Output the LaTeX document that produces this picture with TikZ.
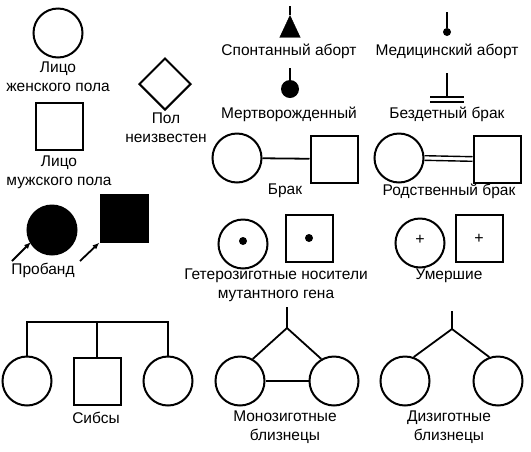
\documentclass[tikz,border=0pt]{standalone}
\usepackage{fontspec}
\setmainfont{Liberation Sans}
\usetikzlibrary{shapes.geometric,arrows.meta}
\begin{document}
\begin{tikzpicture}[x=1pt,y=-1pt,
  fem/.style={circle,draw,line width=2pt,minimum size=49pt,inner sep=0pt},
  mal/.style={rectangle,draw,line width=2pt,minimum size=47pt,inner sep=0pt},
  lbl/.style={font=\fontsize{15.5}{19}\selectfont,align=center,inner sep=0pt},
  ln/.style={line width=1.8pt}]
\useasboundingbox (0,0) rectangle (531,451);
% female / male / unknown
\node[fem] (f1) at (58,33) {};
\node[lbl] (lf1) at (58,77) {Лицо\\женского пола};
\node[mal] (m1) at (59,126) {};
\node[lbl] (lm1) at (59,172) {Лицо\\мужского пола};
\node[diamond,draw,line width=2pt,minimum size=52pt,inner sep=0pt] (u1) at (165,84) {};
\node[lbl] (lu1) at (166,128) {Пол\\неизвестен};
% proband
\node[fem,fill=black] (pf) at (52,230) {};
\node[mal,fill=black] (pm) at (124,218) {};
\coordinate (pa1) at (12,261);
\coordinate (pa2) at (80,261);
\draw[ln,-{Latex[length=7pt,width=5.5pt]}] (pa1) -- (31,242);
\draw[ln,-{Latex[length=7pt,width=5.5pt]}] (pa2) -- (pm.south west);
\node[lbl] (lp) at (43,270) {Пробанд};
% spontaneous abort
\node[isosceles triangle,isosceles triangle apex angle=50,shape border rotate=90,fill=black,draw,inner sep=0pt,minimum height=22pt,minimum width=20pt,anchor=apex] (sa) at (290,15) {};
\coordinate (sat) at (290,6);
\draw[ln] (sat) -- (sa.apex);
\node[lbl] (lsa) at (289,51) {Спонтанный аборт};
% medical abort
\node[circle,fill=black,minimum size=8pt,inner sep=0pt] (ma) at (447,32) {};
\coordinate (mat) at (447,12);
\draw[ln] (mat) -- (ma);
\node[lbl] (lma) at (447,51) {Медицинский аборт};
% stillborn
\node[circle,fill=black,minimum size=18pt,inner sep=0pt] (sb) at (290,89) {};
\coordinate (sbt) at (290,68);
\draw[ln] (sbt) -- (sb);
\node[lbl] (lsb) at (289,114) {Мертворожденный};
% childless
\coordinate (cl) at (447,73);
\coordinate (cb) at (447,97);
\draw[ln] (cl) -- (cb);
\draw[ln] (430,97) -- (464,97);
\draw[ln] (430,102) -- (464,102);
\node[lbl] (lcl) at (447,114) {Бездетный брак};
% marriage
\node[fem] (mf) at (237,158) {};
\node[mal] (mm) at (334,159) {};
\draw[ln] (mf) -- (mm);
\node[lbl] (lmr) at (285,191) {Брак};
% consanguineous
\node[fem] (cf) at (399,158) {};
\node[mal] (cm) at (497,159) {};
\draw[line width=1.4pt] ([yshift=-2.3pt]cf.east) -- ([yshift=-2.3pt]cm.west);
\draw[line width=1.4pt] ([yshift=2.3pt]cf.east) -- ([yshift=2.3pt]cm.west);
\node[lbl] (lcs) at (449,191) {Родственный брак};
% carriers
\node[fem] (hf) at (243,244) {};
\node[circle,fill=black,minimum size=8pt,inner sep=0pt] (hfd) at (243,241) {};
\node[mal] (hm) at (309,238) {};
\node[circle,fill=black,minimum size=8pt,inner sep=0pt] (hmd) at (309,238) {};
\node[lbl] (lh) at (276,285) {Гетерозиготные носители\\мутантного гена};
% deceased
\node[fem] (df) at (420,243) {};
\node[font=\fontsize{16}{16}\selectfont] (dfp) at (420,240) {+};
\node[mal] (dm) at (479,238) {};
\node[font=\fontsize{16}{16}\selectfont] (dmp) at (479,239) {+};
\node[lbl] (ld) at (449,276) {Умершие};
% sibs
\node[fem] (s1) at (27,381) {};
\node[mal] (s2) at (97,381) {};
\node[fem] (s3) at (168,381) {};
\draw[ln] (s1.north) -- (27,322) -- (168,322) -- (s3.north);
\draw[ln] (97,322) -- (s2.north);
\node[lbl] (ls) at (96,418) {Сибсы};
% monozygotic
\node[fem] (t1) at (240,381) {};
\node[fem] (t2) at (334,381) {};
\coordinate (tt) at (287,307);
\coordinate (tj) at (287,328);
\draw[ln] (tt) -- (tj);
\draw[ln] (t1.60) -- (tj) -- (t2.120);
\draw[line width=1.5pt] (t1) -- (t2);
\node[lbl] (lt) at (285,427) {Монозиготные\\близнецы};
% dizygotic
\node[fem] (z1) at (405,381) {};
\node[fem] (z2) at (498,381) {};
\coordinate (zt) at (452,311);
\coordinate (zj) at (452,329);
\draw[ln] (zt) -- (zj);
\draw[ln] (z1.70) -- (zj) -- (z2.110);
\node[lbl] (lz) at (449,427) {Дизиготные\\близнецы};
\end{tikzpicture}
\end{document}
